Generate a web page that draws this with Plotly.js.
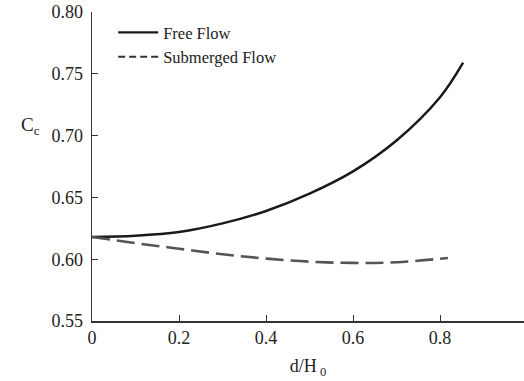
<!DOCTYPE html>
<html>
<head>
<meta charset="utf-8">
<script src="https://cdn.plot.ly/plotly-3.0.1.min.js"></script>
<style>html,body{margin:0;padding:0;background:#fff;}#chart{width:524px;height:381px;}</style>
</head>
<body>
<div id="chart"></div>
<script>
const freeX = [0, 0.1, 0.2, 0.3, 0.4, 0.5, 0.6, 0.7, 0.8, 0.853];
const freeY = [0.618, 0.619, 0.622, 0.629, 0.639, 0.653, 0.671, 0.696, 0.731, 0.759];
const subX = [0, 0.1, 0.2, 0.3, 0.4, 0.5, 0.6, 0.7, 0.818];
const subY = [0.618, 0.613, 0.6085, 0.604, 0.6005, 0.598, 0.597, 0.5975, 0.601];
const seriesNames = ['Free Flow', 'Submerged Flow'];
const xTicks = [0, 0.2, 0.4, 0.6, 0.8];
const xTickText = ['0', '0.2', '0.4', '0.6', '0.8'];
const yTicks = [0.55, 0.60, 0.65, 0.70, 0.75, 0.80];
const yTickText = ['0.55', '0.60', '0.65', '0.70', '0.75', '0.80'];

const font = {family: 'Liberation Serif, DejaVu Serif, serif', color: '#222'};

const traces = [
  {x: freeX, y: freeY, mode: 'lines', name: seriesNames[0], showlegend: false,
   line: {color: '#1a1a1a', width: 2.5, shape: 'spline'}},
  {x: subX, y: subY, mode: 'lines', name: seriesNames[1], showlegend: false,
   line: {color: '#555555', width: 2.6, shape: 'spline', dash: '18px,7px'}},
  // legend entries (legend samples only)
  {x: [null], y: [null], mode: 'lines', name: seriesNames[0],
   line: {color: '#1a1a1a', width: 2.2}},
  {x: [null], y: [null], mode: 'lines', name: seriesNames[1],
   line: {color: '#333333', width: 2, dash: '7px,4px'}}
];

const layout = {
  width: 524, height: 381,
  margin: {l: 92, r: 0, t: 12, b: 60},
  paper_bgcolor: '#fff', plot_bgcolor: '#fff',
  font: Object.assign({size: 18}, font),
  showlegend: true,
  legend: {x: 0.049, y: 0.99, xanchor: 'left', yanchor: 'top',
           bgcolor: 'rgba(0,0,0,0)', font: Object.assign({size: 16.5}, font),
           tracegroupgap: 0, itemwidth: 40},
  xaxis: {range: [0, 0.993], tickvals: xTicks, ticktext: xTickText,
          ticks: 'inside', ticklen: 6, tickcolor: '#333', tickwidth: 1,
          showline: true, linecolor: '#333', linewidth: 1.5,
          showgrid: false, zeroline: false,
          tickfont: Object.assign({size: 18}, font),
          title: {text: 'd/H<sub> 0</sub>', font: Object.assign({size: 18}, font), standoff: 12}},
  yaxis: {range: [0.55, 0.80], tickvals: yTicks, ticktext: yTickText,
          ticks: 'inside', ticklen: 6, tickcolor: '#333', tickwidth: 1,
          showline: true, linecolor: '#333', linewidth: 1.5,
          showgrid: false, zeroline: false, ticklabelstandoff: 4,
          tickfont: Object.assign({size: 18}, font)},
  annotations: [
    {text: 'C<sub>c</sub>', xref: 'paper', yref: 'paper', x: -0.143, y: 0.63,
     xanchor: 'center', yanchor: 'middle', showarrow: false,
     font: Object.assign({size: 19}, font)}
  ]
};

Plotly.newPlot('chart', traces, layout, {displayModeBar: false, staticPlot: true});
</script>
</body>
</html>
